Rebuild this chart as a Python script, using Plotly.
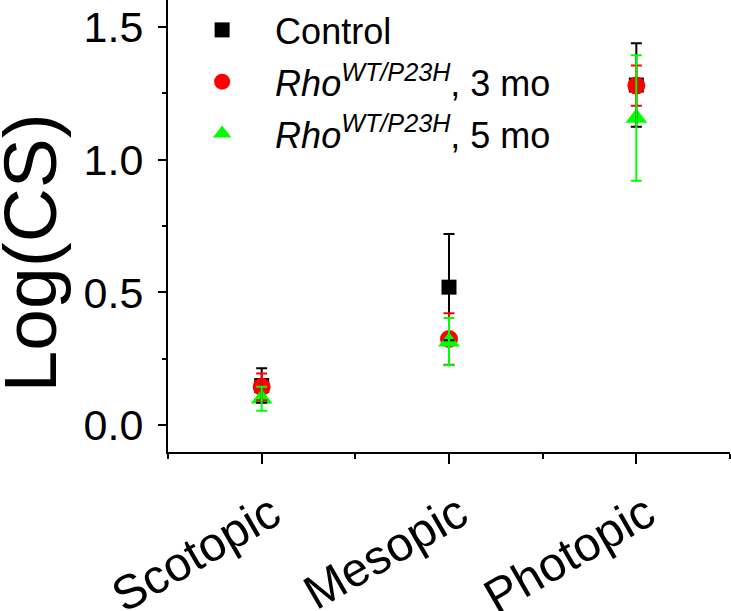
import plotly.graph_objects as go

categories = ["Scotopic", "Mesopic", "Photopic"]
x_pos = [1, 2, 3]

control = [0.15, 0.52, 1.28]
control_err = [0.065, 0.20, 0.157]
rho3 = [0.145, 0.325, 1.278]
rho3_err = [0.05, 0.097, 0.076]
rho5 = [0.10, 0.315, 1.156]
rho5_err = [0.045, 0.089, 0.236]

names = ["Control",
         "<i>Rho</i><sup><i>WT/P23H</i></sup>, 3 mo",
         "<i>Rho</i><sup><i>WT/P23H</i></sup>, 5 mo"]
colors = ["#000000", "#FF0000", "#00FF00"]
symbols = ["square", "circle", "triangle-up"]
sizes = [15, 18, 19]
series = [control, rho3, rho5]
errors = [control_err, rho3_err, rho5_err]

FONT = "Liberation Sans, Arial, sans-serif"

fig = go.Figure()
for i, (name, c, s, sz, y) in enumerate(zip(names, colors, symbols, sizes, series)):
    fig.add_trace(go.Scatter(
        x=x_pos, y=y, mode="markers", name=name, legendgroup=f"g{i}",
        marker=dict(symbol=s, size=sz, color=c, line=dict(width=0)),
    ))
for c, y, e in zip(colors, series, errors):
    fig.add_trace(go.Scatter(
        x=x_pos, y=y, mode="markers", showlegend=False, hoverinfo="skip",
        marker=dict(size=1, color=c, opacity=0),
        error_y=dict(type="data", array=e, visible=True, color=c,
                     thickness=2, width=5.5),
    ))

fig.update_layout(
    width=731, height=611,
    margin=dict(l=168, r=1, t=0, b=159),
    paper_bgcolor="white", plot_bgcolor="white",
    font=dict(family=FONT, color="black"),
    showlegend=True,
    legend=dict(x=0.002, y=1.0, xanchor="left", yanchor="top",
                bgcolor="rgba(0,0,0,0)", font=dict(size=36, family=FONT),
                itemwidth=96, tracegroupgap=2),
)
fig.update_xaxes(
    range=[0.5, 3.5], tickmode="array", tickvals=x_pos, ticktext=categories,
    tickangle=-30, tickfont=dict(size=48, family=FONT), ticklabelshift=10,
    ticklabelstandoff=3,
    showline=True, linecolor="black", linewidth=2,
    ticks="outside", ticklen=10, tickwidth=2, tickcolor="black",
    minor=dict(tickmode="array", tickvals=[0.5, 1.5, 2.5, 3.5], ticks="outside",
               ticklen=5, tickwidth=2, tickcolor="black"),
    showgrid=False, zeroline=False, automargin=False,
)
fig.update_yaxes(
    range=[-0.1, 1.6], tickmode="array", tickvals=[0.0, 0.5, 1.0, 1.5],
    ticktext=["0.0", "0.5", "1.0", "1.5"],
    tickfont=dict(size=43, family=FONT), ticklabelstandoff=6,
    showline=True, linecolor="black", linewidth=2,
    ticks="outside", ticklen=8, tickwidth=2, tickcolor="black",
    minor=dict(tickmode="array", tickvals=[0.25, 0.75, 1.25], ticks="outside",
               ticklen=4, tickwidth=2, tickcolor="black"),
    showgrid=False, zeroline=False, automargin=False,
)
fig.add_annotation(
    text="Log(CS)", textangle=-90, xref="paper", yref="paper",
    x=-0.245, y=0.44, xanchor="center", yanchor="middle", showarrow=False,
    font=dict(size=75, family=FONT, color="black"),
)

fig.write_html("out.html", config={"displayModeBar": False},
               post_script="document.body.style.margin='0';")
